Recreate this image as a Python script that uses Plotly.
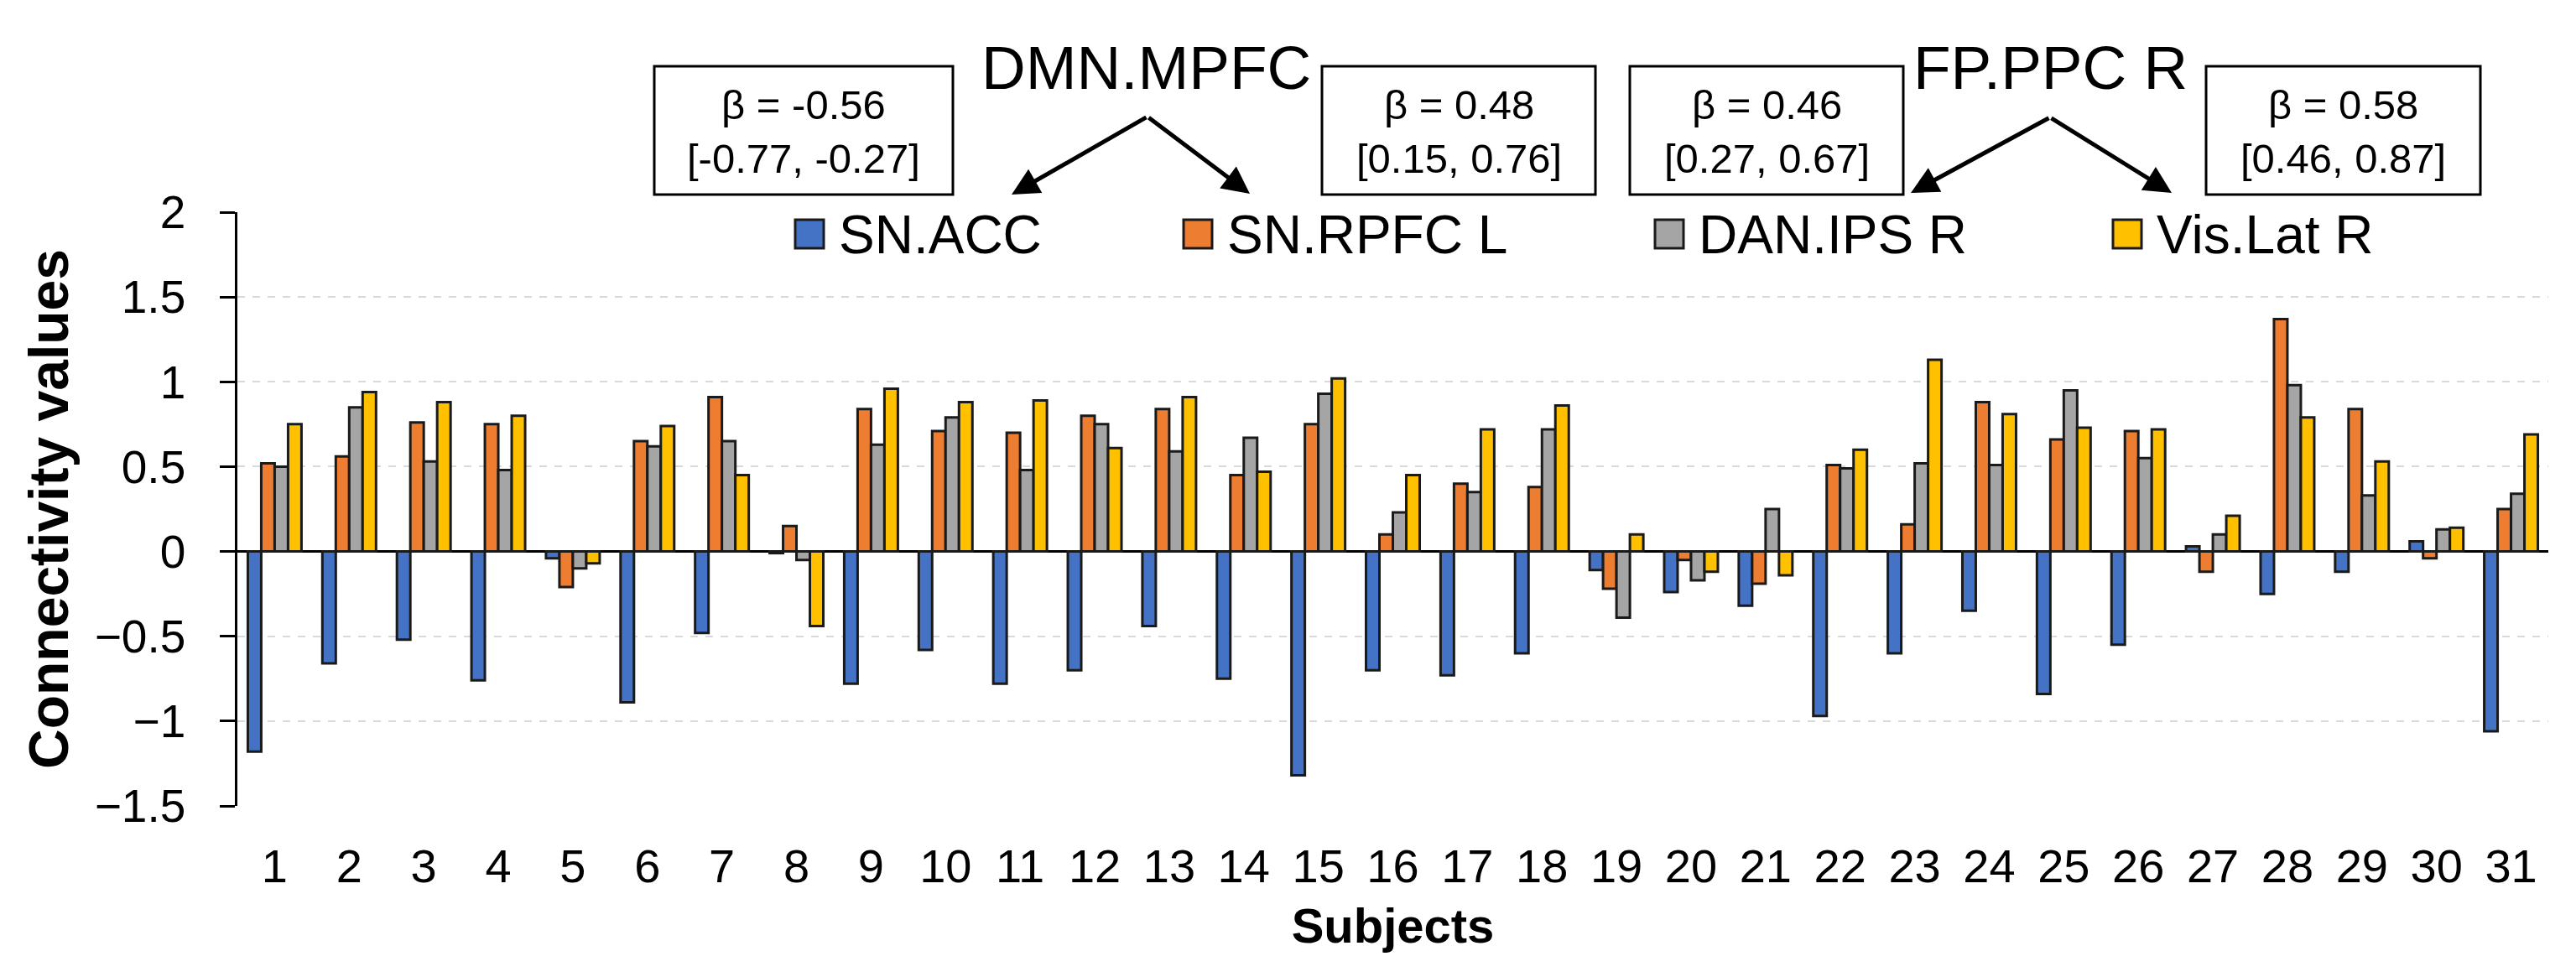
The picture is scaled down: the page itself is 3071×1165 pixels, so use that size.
import plotly.graph_objects as go

# subjects and connectivity values
subjects = [str(i) for i in range(1, 32)]

sn_acc = [-1.18, -0.66, -0.52, -0.76, -0.04, -0.89, -0.48, -0.01, -0.78, -0.58,
          -0.78, -0.70, -0.44, -0.75, -1.32, -0.70, -0.73, -0.60, -0.11, -0.24,
          -0.32, -0.97, -0.60, -0.35, -0.84, -0.55, 0.03, -0.25, -0.12, 0.06, -1.06]
sn_rpfc_l = [0.52, 0.56, 0.76, 0.75, -0.21, 0.65, 0.91, 0.15, 0.84, 0.71,
             0.70, 0.80, 0.84, 0.45, 0.75, 0.10, 0.40, 0.38, -0.22, -0.05,
             -0.19, 0.51, 0.16, 0.88, 0.66, 0.71, -0.12, 1.37, 0.84, -0.04, 0.25]
dan_ips_r = [0.50, 0.85, 0.53, 0.48, -0.10, 0.62, 0.65, -0.05, 0.63, 0.79,
             0.48, 0.75, 0.59, 0.67, 0.93, 0.23, 0.35, 0.72, -0.39, -0.17,
             0.25, 0.49, 0.52, 0.51, 0.95, 0.55, 0.10, 0.98, 0.33, 0.13, 0.34]
vis_lat_r = [0.75, 0.94, 0.88, 0.80, -0.07, 0.74, 0.45, -0.44, 0.96, 0.88,
             0.89, 0.61, 0.91, 0.47, 1.02, 0.45, 0.72, 0.86, 0.10, -0.12,
             -0.14, 0.60, 1.13, 0.81, 0.73, 0.72, 0.21, 0.79, 0.53, 0.14, 0.69]

series_names = ["SN.ACC", "SN.RPFC L", "DAN.IPS R", "Vis.Lat R"]
series_vals = [sn_acc, sn_rpfc_l, dan_ips_r, vis_lat_r]
colors = ["#4472C4", "#ED7D31", "#A5A5A5", "#FFC000"]

betas = ["β = -0.56<br>[-0.77, -0.27]", "β = 0.48<br>[0.15, 0.76]",
         "β = 0.46<br>[0.27, 0.67]", "β = 0.58<br>[0.46, 0.87]"]
seeds = ["DMN.MPFC", "FP.PPC R"]

FONT = "Liberation Sans, Arial, sans-serif"
W, H = 3071, 1165
L, R, T, B = 275, 41, 245, 212


def px(x):
    return (x - L) / (W - L - R)


def py(y):
    return (H - B - y) / (H - T - B)


fig = go.Figure()
for name, vals, col in zip(series_names, series_vals, colors):
    fig.add_trace(go.Bar(x=subjects, y=vals, name=name, marker_color=col,
                         marker_line_color="#1a1a1a", marker_line_width=3,
                         showlegend=False))

shapes = []
annos = []

# legend drawn by hand so the keys can match the original size
key_x = [940, 1403, 1965, 2511]
for kx, name, col in zip(key_x, series_names, colors):
    shapes.append(dict(type="rect", xref="paper", yref="paper",
                       x0=px(kx), x1=px(kx + 34), y0=py(288), y1=py(254),
                       fillcolor=col, line=dict(color="#1a1a1a", width=3)))
    annos.append(dict(text=name, xref="paper", yref="paper", x=px(kx + 50), y=py(272),
                      xanchor="left", yanchor="middle", showarrow=False,
                      font=dict(size=64, color="black", family=FONT)))

# beta boxes
box_x = [(772, 1128), (1568, 1894), (1935, 2261), (2622, 2949)]
for (x0, x1), txt in zip(box_x, betas):
    shapes.append(dict(type="rect", xref="paper", yref="paper",
                       x0=px(x0), x1=px(x1), y0=py(224), y1=py(71),
                       fillcolor="white", line=dict(color="black", width=3)))
    annos.append(dict(text=txt, xref="paper", yref="paper", x=px((x0 + x1) / 2), y=py(149),
                      xanchor="center", yanchor="middle", showarrow=False,
                      font=dict(size=49, color="black", family=FONT)))

# seed labels and arrows
seed_x = [1358, 2436]
arrow_tips = [[(1198, 224), (1482, 223)], [(2270, 222), (2581, 222)]]
apex = [(1360, 131), (2436, 132)]
for sx, s, tips, ap in zip(seed_x, seeds, arrow_tips, apex):
    annos.append(dict(text=s, xref="paper", yref="paper", x=px(sx), y=py(73),
                      xanchor="center", yanchor="middle", showarrow=False,
                      font=dict(size=73, color="black", family=FONT)))
    for tx, ty in tips:
        annos.append(dict(text="", xref="paper", yref="paper", x=px(tx), y=py(ty),
                          ax=ap[0] - tx, ay=ap[1] - ty, showarrow=True,
                          arrowhead=2, arrowsize=1.3, arrowwidth=5, arrowcolor="black"))

fig.update_layout(
    width=W, height=H,
    margin=dict(l=L, r=R, t=T, b=B),
    paper_bgcolor="white", plot_bgcolor="white",
    barmode="group", bargap=0.28, bargroupgap=0,
    font=dict(family=FONT, color="black"),
    shapes=shapes, annotations=annos,
)
fig.update_yaxes(range=[-1.5, 2], dtick=0.5, showline=True, linecolor="black", linewidth=2.5,
                 ticks="outside", ticklen=18, tickwidth=2.5, tickcolor="black",
                 tickfont=dict(size=55, family=FONT), ticklabelstandoff=30,
                 showgrid=True, gridcolor="#D9D9D9", gridwidth=2, griddash="dash",
                 zeroline=True, zerolinecolor="black", zerolinewidth=2.5,
                 title=dict(text="<b>Connectivity values</b>", font=dict(size=66, family=FONT),
                            standoff=10))
fig.update_xaxes(showline=False, ticks="", tickfont=dict(size=56, family=FONT),
                 ticklabelstandoff=34,
                 title=dict(text="<b>Subjects</b>", font=dict(size=58, family=FONT),
                            standoff=20))

fig.write_html("out.html")
